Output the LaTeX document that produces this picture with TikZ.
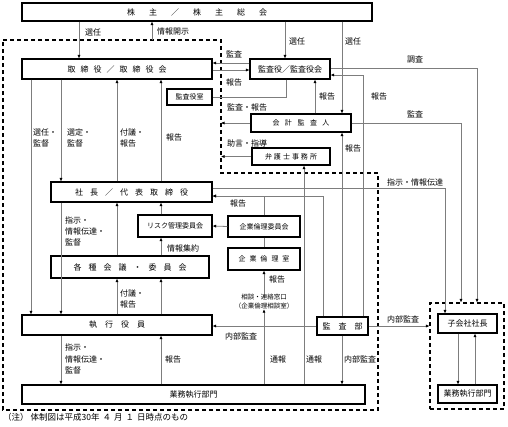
\documentclass[tikz,border=0pt]{standalone}
\usepackage{fontspec}
\newfontfamily\jpf{Noto Sans CJK JP}
\usetikzlibrary{arrows.meta}
\definecolor{lc}{RGB}{125,125,125}
\begin{document}
\begin{tikzpicture}[x=1pt,y=-1pt,
  bx/.style={draw=black,line width=1.1pt,fill=white,inner sep=0pt,font=\jpf\fontsize{8}{10}\selectfont},
  sbx/.style={bx,font=\jpf\fontsize{7}{9}\selectfont},
  con/.style={draw=lc,line width=0.8pt},
  arr/.style={con,-{Latex[length=3.5pt,width=3.2pt,color=black]}},
  lab/.style={font=\jpf\fontsize{8}{11.3}\selectfont,inner sep=0pt,anchor=west,align=left},
  dsh/.style={draw=black,line width=1.1pt,dash pattern=on 4pt off 3pt}]
\useasboundingbox (0,0) rectangle (508,426);

% dashed regions
\draw[dsh] (3,40) -- (221,40) -- (221,173) -- (378,173) -- (378,410) -- (3,410) -- cycle;
\node[dsh,inner sep=0pt,minimum width=74pt,minimum height=106pt] (sub) at (467,356) {};

% boxes
\node[bx,minimum width=350pt,minimum height=18pt] (kabu) at (197,12) {株\hspace{14pt}主\hspace{14pt}／\hspace{14pt}株\hspace{14pt}主\hspace{14pt}総\hspace{14pt}会};
\node[bx,minimum width=190pt,minimum height=20pt] (tori) at (117,69) {取\hspace{5pt}締\hspace{5pt}役\hspace{5pt}／\hspace{5pt}取\hspace{5pt}締\hspace{5pt}役\hspace{5pt}会};
\node[bx,minimum width=80pt,minimum height=20pt] (kansa) at (290,69) {監査役／監査役会};
\node[sbx,minimum width=45pt,minimum height=16pt] (shitsu) at (189.5,97) {監査役室};
\node[sbx,minimum width=100pt,minimum height=18pt] (kaikei) at (301,123) {会\hspace{5.5pt}計\hspace{5.5pt}監\hspace{5.5pt}査\hspace{5.5pt}人};
\node[sbx,minimum width=78pt,minimum height=17pt] (bengo) at (291,156.5) {弁\hspace{2pt}護\hspace{2pt}士\hspace{2pt}事\hspace{2pt}務\hspace{2pt}所};
\node[bx,minimum width=161pt,minimum height=20pt] (shacho) at (131.5,192) {社\hspace{7pt}長\hspace{7pt}／\hspace{7pt}代\hspace{7pt}表\hspace{7pt}取\hspace{7pt}締\hspace{7pt}役};
\node[sbx,minimum width=74pt,minimum height=22pt] (risk) at (175,226) {リスク管理委員会};
\node[sbx,minimum width=72pt,minimum height=21pt] (rinriiin) at (264,226.5) {企業倫理委員会};
\node[sbx,minimum width=72pt,minimum height=22pt] (rinri) at (264,259) {企\hspace{4pt}業\hspace{4pt}倫\hspace{4pt}理\hspace{4pt}室};
\node[bx,minimum width=158pt,minimum height=22pt] (kakushu) at (130,267) {各\hspace{7pt}種\hspace{7pt}会\hspace{7pt}議\hspace{7pt}・\hspace{7pt}委\hspace{7pt}員\hspace{7pt}会};
\node[bx,minimum width=190pt,minimum height=20pt] (shikko) at (117,325) {執\hspace{8pt}行\hspace{8pt}役\hspace{8pt}員};
\node[bx,minimum width=51pt,minimum height=18pt] (kansabu) at (342.5,326) {監\hspace{8pt}査\hspace{8pt}部};
\node[bx,minimum width=343pt,minimum height=19pt] (gyomu) at (193.5,394.5) {業務執行部門};
\node[bx,minimum width=59pt,minimum height=19pt] (subpres) at (467.5,323.5) {子会社社長};
\node[bx,minimum width=59pt,minimum height=18pt] (subgyo) at (467.5,394) {業務執行部門};
\node[font=\jpf\fontsize{6.5}{9}\selectfont,align=center,inner sep=0pt] (soudan) at (264,301.5) {相談・連絡窓口\\（企業倫理相談室）};

\coordinate (dtop) at (152,40);

% connectors
\draw[arr] (kabu.south -| 79,0) -- (tori.north -| 79,0);
\draw[arr] (dtop) -- (kabu.south -| dtop);
\draw[arr] (kabu.south -| 285,0) -- (kansa.north -| 285,0);
\draw[arr] (kabu.south -| 342,0) -- (kaikei.north -| 342,0);
\draw[arr] (kansa.west |- 0,63) -- (tori.east |- 0,63);
\draw[arr] (tori.east |- 0,70) -- (kansa.west |- 0,70);
\draw[con] (kansa.south -| 286,0) |- (shitsu.east);
\draw[arr] (kansa.east |- 0,68) -| (sub.north -| 477,0);
\draw[arr] (kaikei.east) -| (sub.north -| 461,0);
\draw[arr] (kaikei.north -| 315,0) -- (kansa.south -| 315,0);
\draw[arr] (kansabu.north -| 363,0) |- (kansa.east |- 0,75);
\draw[arr] (kansabu.north -| 342,0) -- (kaikei.south -| 342,0);
\draw[arr] (kaikei.west) -- (kaikei.west -| 221,0);
\draw[arr] (bengo.west) -- (bengo.west -| 221,0);
\draw[arr] (gyomu.north -| 304,0) -- (bengo.south -| 304,0);
\draw[arr] (gyomu.north -| 264,0) -- (soudan.south);
\draw[arr] (soudan.north) -- (rinri.south);
\draw[con] (rinriiin.south) -- (rinri.north);
\draw[arr] (rinriiin.north) |- (shacho.east |- 0,196);
\draw[arr] (kansabu.north -| 323,0) |- (shacho.east |- 0,196);
\draw[arr] (shacho.east |- 0,188) -| (subpres.north -| 445,0);
\draw[arr] (rinriiin.west) -- (risk.east);
\draw[arr] (risk.north -| 161,0) -- (shacho.south -| 161,0);
\draw[arr] (kakushu.north -| 161,0) -- (risk.south -| 161,0);
\draw[arr] (kakushu.north -| 117,0) -- (shacho.south -| 117,0);
\draw[arr] (shacho.south -| 61,0) -- (shikko.north -| 61,0);
\draw[arr] (tori.south -| 31,0) -- (shikko.north -| 31,0);
\draw[arr] (tori.south -| 61,0) -- (shacho.north -| 61,0);
\draw[arr] (shacho.north -| 117,0) -- (tori.south -| 117,0);
\draw[arr] (shacho.north -| 161,0) -- (tori.south -| 161,0);
\draw[arr] (shikko.north -| 117,0) -- (kakushu.south -| 117,0);
\draw[arr] (shikko.north -| 161,0) -- (kakushu.south -| 161,0);
\draw[arr] (shikko.south -| 61,0) -- (gyomu.north -| 61,0);
\draw[arr] (gyomu.north -| 161,0) -- (shikko.south -| 161,0);
\draw[arr] (kansabu.west) -- (shikko.east |- kansabu.west);
\draw[arr] (kansabu.south -| 342,0) -- (gyomu.north -| 342,0);
\draw[arr] (kansabu.east) -- (sub.west |- kansabu.east);
\draw[arr] (subpres.south -| 458,0) -- (subgyo.north -| 458,0);
\draw[arr] (subgyo.north -| 475,0) -- (subpres.south -| 475,0);

% labels
\node[lab] (l1) at (85,32) {選任};
\node[lab] (l2) at (157,31) {情報開示};
\node[lab] (l3) at (289,41) {選任};
\node[lab] (l4) at (345,41) {選任};
\node[lab] (l5) at (407,59) {調査};
\node[lab] (l6) at (226,54) {監査};
\node[lab] (l7) at (226,82) {報告};
\node[lab] (l8) at (319,96) {報告};
\node[lab] (l9) at (371,96) {報告};
\node[lab] (l10) at (227,107) {監査・報告};
\node[lab] (l11) at (407,114) {監査};
\node[lab] (l12) at (227,143) {助言・指導};
\node[lab] (l13) at (345,148) {報告};
\node[lab] (l14) at (33,138) {選任・\\監督};
\node[lab] (l15) at (67,138) {選定・\\監督};
\node[lab] (l16) at (120,138) {付議・\\報告};
\node[lab] (l17) at (166,137) {報告};
\node[lab] (l18) at (387,182) {指示・情報伝達};
\node[lab] (l19) at (230,203) {報告};
\node[lab] (l20) at (65,231.5) {指示・\\情報伝達・\\監督};
\node[lab] (l21) at (167,248) {情報集約};
\node[lab] (l22) at (120,299) {付議・\\報告};
\node[lab] (l23) at (269,279) {報告};
\node[lab] (l24) at (65,359) {指示・\\情報伝達・\\監督};
\node[lab] (l25) at (165,359) {報告};
\node[lab] (l26) at (225,336) {内部監査};
\node[lab] (l27) at (270,359) {通報};
\node[lab] (l28) at (306,359) {通報};
\node[lab] (l29) at (344,359) {内部監査};
\node[lab] (l30) at (387,319) {内部監査};
\node[lab,font=\jpf\fontsize{8.5}{10}\selectfont] (note) at (3,417) {（注）\hspace{2pt}体制図は平成30年\hspace{3pt}４\hspace{3pt}月\hspace{3pt}１\hspace{3pt}日時点のもの};
\end{tikzpicture}
\end{document}
